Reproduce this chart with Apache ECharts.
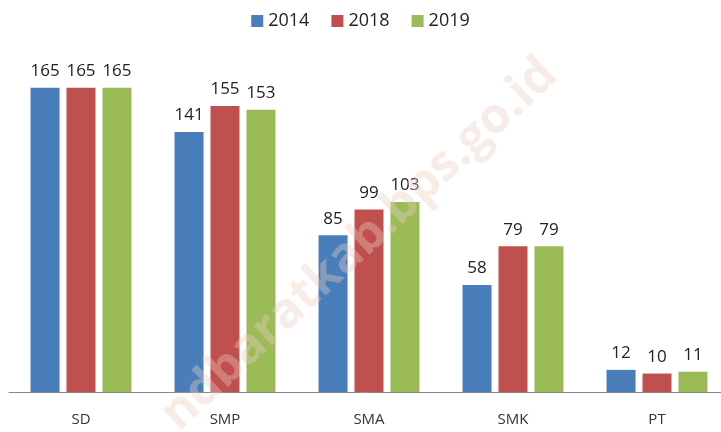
<!DOCTYPE html>
<html>
<head>
<meta charset="utf-8">
<title>Jumlah Sekolah</title>
<script src="https://cdn.jsdelivr.net/npm/echarts@6/dist/echarts.min.js"></script>
<style>
    html, body { margin: 0; padding: 0; background: #fff; }
    #chart { width: 721px; height: 432px; }
</style>
</head>
<body>
<div id="chart"></div>
<script>
// data
var categories = ['SD', 'SMP', 'SMA', 'SMK', 'PT'];
var years = ['2014', '2018', '2019'];
var data2014 = [165, 141, 85, 58, 12];
var data2018 = [165, 155, 99, 79, 10];
var data2019 = [165, 153, 103, 79, 11];
var colors = ['#4a7ebb', '#c0504d', '#9bbb59'];

var myChart = echarts.init(document.getElementById('chart'));

function makeSeries(name, values, color) {
    return {
        name: name,
        type: 'bar',
        data: values,
        barWidth: 29,
        barGap: '24%',
        itemStyle: { color: color },
        label: {
            show: true,
            position: 'top',
            distance: 8,
            color: '#222',
            fontFamily: 'Open Sans',
            fontSize: 17
        }
    };
}

var option = {
    animation: false,
    backgroundColor: '#fff',
    textStyle: { fontFamily: 'Open Sans' },
    legend: {
        top: 7,
        left: 'center',
        itemWidth: 12,
        itemHeight: 12,
        itemGap: 22,
        icon: 'rect',
        data: years,
        textStyle: { color: '#222', fontSize: 18, fontFamily: 'Open Sans' }
    },
    grid: {
        left: 9,
        right: -8,
        top: 60,
        bottom: 40,
        containLabel: false,
        outerBoundsMode: 'none'
    },
    xAxis: {
        type: 'category',
        data: categories,
        axisTick: { show: false },
        axisLine: { lineStyle: { color: '#8a8a8a', width: 1 } },
        axisLabel: { color: '#333', fontSize: 15, margin: 20, fontFamily: 'Open Sans' }
    },
    yAxis: {
        type: 'value',
        min: 0,
        max: 180,
        show: false,
        splitLine: { show: false }
    },
    // faint diagonal watermark
    graphic: [{
        type: 'text',
        z: 100,
        x: 186,
        y: 440,
        rotation: Math.PI * 43 / 180,
        style: {
            text: 'ndbaratkab.bps.go.id',
            fill: 'rgba(235,205,190,0.38)',
            font: 'bold 49px "Open Sans"',
            verticalAlign: 'bottom'
        }
    }],
    series: [
        makeSeries(years[0], data2014, colors[0]),
        makeSeries(years[1], data2018, colors[1]),
        makeSeries(years[2], data2019, colors[2])
    ]
};
myChart.setOption(option);
</script>
</body>
</html>
